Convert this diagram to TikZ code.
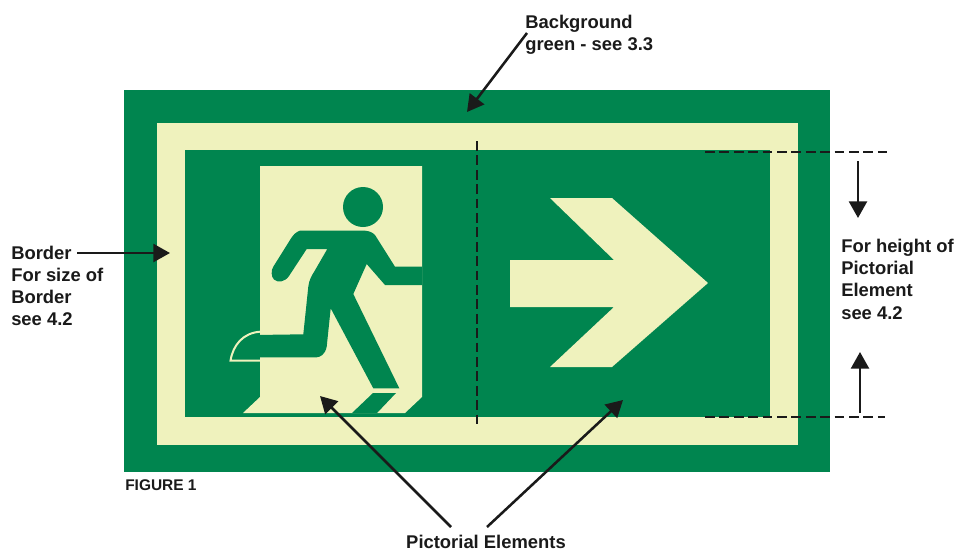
\documentclass[tikz,border=0pt]{standalone}
\usepackage{fontspec}
\setmainfont{Liberation Sans}
\usetikzlibrary{arrows.meta}
\definecolor{signgreen}{HTML}{00854F}
\definecolor{signlight}{HTML}{EFF2BD}
\definecolor{inkblack}{HTML}{1A1A1A}
\tikzset{
  x=0.75pt,y=-0.75pt,
  lbl/.style={font=\bfseries\fontsize{13.8}{16.6}\selectfont,text=inkblack,align=left,inner sep=0pt,anchor=north west},
  callout/.style={draw=inkblack,line width=1.9pt,-{Triangle[length=12.5pt,width=13.5pt]}},
  guide/.style={draw=inkblack,line width=1.5pt,dash pattern=on 7.4pt off 3.4pt},
  gfill/.style={fill=signgreen,draw=none},
  lfill/.style={fill=signlight,draw=none}
}
\begin{document}
\begin{tikzpicture}
\useasboundingbox (0,0) rectangle (957,551);
\fill[white] (0,0) rectangle (957,551);
% sign panels
\path[gfill] (124,90) rectangle (830,472);
\path[lfill] (157,123) rectangle (798,445);
\path[gfill] (185,150) rectangle (770,417);
% door
\path[lfill] (260,166) -- (422,166) -- (422,397) -- (405,413) -- (243,413) -- (260,397) -- cycle;
% direction arrow
\path[lfill] (550,198) -- (612,198) -- (708,283) -- (612,367) -- (550,367) -- (614,307) -- (510,307) -- (510,260) -- (614,260) -- cycle;
% running figure
\path[gfill] (363,207) circle[radius=20];
\path[gfill] (273.3,266.7)
  -- (291.7,237.3) .. controls (295,232) and (300,230.7) .. (300,230.7)
  -- (365,230.7) .. controls (370,231) and (373,233) .. (375,235)
  -- (395,266.7) -- (422,266.7) -- (422,285) -- (385,285)
  -- (366.7,264) -- (353.3,294) -- (399.3,388.3) -- (373.3,388.3)
  -- (330.7,308.3) -- (326.7,346.7) .. controls (325,355) and (320,357) .. (316.7,357.3)
  -- (235,357.3) .. controls (237,345) and (245,336) .. (255,335)
  -- (303.3,334.3) -- (308.3,286.7) .. controls (309,280) and (312,275) .. (314,272)
  -- (327.3,249) -- (306.7,249) -- (289,276)
  .. controls (285,282) and (278,283) .. (274,279.5)
  .. controls (271,277) and (271,270) .. (273.3,266.7) -- cycle;
% shoe outline outside the door
\draw[signlight,line width=1.5pt] (260,360.7) -- (230.5,360.7) .. controls (233,345) and (243,333) .. (260,331.7);
% foot on the ground
\path[gfill] (352,413) -- (373,393) -- (396,393) -- (377,413) -- cycle;
% guides
\coordinate (vtop) at (477,141); \coordinate (vbot) at (477,426);
\coordinate (gtl) at (705,152); \coordinate (gtr) at (887,152);
\coordinate (gbl) at (705,417); \coordinate (gbr) at (885,417);
\draw[guide] (vtop) -- (vbot);
\draw[guide] (gtl) -- (gtr);
\draw[guide] (gbl) -- (gbr);
% labels
\node[lbl] (bg) at (525,14.5) {Background\\green - see 3.3};
\node[lbl] (bd) at (11,245.5) {Border\\For size of\\Border\\see 4.2};
\node[lbl] (ht) at (841,239) {For height of\\Pictorial\\Element\\see 4.2};
\node[lbl,font=\bfseries\fontsize{11.6}{13}\selectfont] (fig) at (125,479.5) {FIGURE 1};
\node[lbl,anchor=north] (pe) at (486,534.5) {Pictorial Elements};
% callouts
\coordinate (bgfrom) at (527,33); \coordinate (bgto) at (467,112);
\coordinate (bdfrom) at (77,253); \coordinate (bdto) at (170,253);
\coordinate (dnfrom) at (858,161); \coordinate (dnto) at (858,218);
\coordinate (upfrom) at (860,413); \coordinate (upto) at (860,352);
\coordinate (pe1from) at (451,527); \coordinate (pe1to) at (320,396);
\coordinate (pe2from) at (487,527); \coordinate (pe2to) at (623,400);
\draw[callout] (bgfrom) -- (bgto);
\draw[callout] (bdfrom) -- (bdto);
\draw[callout] (dnfrom) -- (dnto);
\draw[callout] (upfrom) -- (upto);
\draw[callout] (pe1from) -- (pe1to);
\draw[callout] (pe2from) -- (pe2to);
\end{tikzpicture}
\end{document}
